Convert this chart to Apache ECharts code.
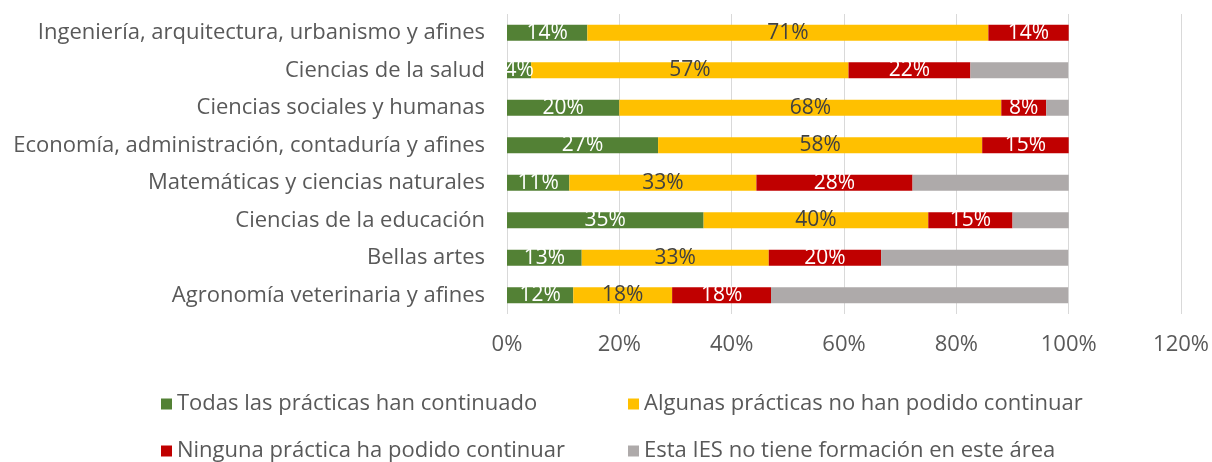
<!DOCTYPE html>
<html>
<head>
<meta charset="utf-8">
<script src="https://cdn.jsdelivr.net/npm/echarts@6/dist/echarts.min.js"></script>
<style>
  html, body { margin: 0; padding: 0; background: #fff; }
  #chart { width: 1212px; height: 462px; }
</style>
</head>
<body>
<div id="chart"></div>
<script>
// categories, top to bottom as in the picture
const categories = [
  'Ingeniería, arquitectura, urbanismo y afines',
  'Ciencias de la salud',
  'Ciencias sociales y humanas',
  'Economía, administración, contaduría y afines',
  'Matemáticas y ciencias naturales',
  'Ciencias de la educación',
  'Bellas artes',
  'Agronomía veterinaria y afines'
]

const seriesNames = [
  'Todas las prácticas han continuado',
  'Algunas prácticas no han podido continuar',
  'Ninguna práctica ha podido continuar',
  'Esta IES no tiene formación en este área'
]

// percentages (same order as categories)
const todas    = [14.3, 4.3, 20, 26.9, 11.1, 35, 13.3, 11.8]
const algunas  = [71.4, 56.5, 68, 57.7, 33.3, 40, 33.3, 17.6]
const ninguna  = [14.3, 21.7, 8, 15.4, 27.8, 15, 20, 17.6]
const sinForm  = [0, 17.4, 4, 0, 27.8, 10, 33.3, 52.9]

const xTicks = [0, 20, 40, 60, 80, 100, 120]

const colors = ['#538135', '#ffc000', '#c00000', '#aeaaaa']
const labelColors = ['#ffffff', '#404040', '#ffffff', null]
const values = [todas, algunas, ninguna, sinForm]

const FONT = 'Open Sans'

const chart = echarts.init(document.getElementById('chart'))

const series = seriesNames.map((name, i) => ({
  name: name,
  type: 'bar',
  stack: 'total',
  barWidth: 16,
  itemStyle: { color: colors[i] },
  label: {
    show: labelColors[i] !== null,
    position: 'inside',
    color: labelColors[i],
    fontSize: 21,
    fontFamily: FONT,
    formatter: p => Math.round(p.value) + '%'
  },
  data: values[i].slice().reverse()
}))

const legendPos = [
  { left: 156, top: 388 },
  { left: 623, top: 388 },
  { left: 156, top: 435 },
  { left: 623, top: 435 }
]

chart.setOption({
  backgroundColor: '#ffffff',
  animation: false,
  grid: { left: 507, right: 29, top: 14, bottom: 148, containLabel: false },
  xAxis: {
    type: 'value',
    min: xTicks[0],
    max: xTicks[xTicks.length - 1],
    interval: 20,
    axisLine: { show: false },
    axisTick: { show: false },
    splitLine: { lineStyle: { color: '#d9d9d9', width: 1 } },
    axisLabel: {
      color: '#595959',
      fontSize: 22,
      fontFamily: FONT,
      margin: 20,
      formatter: v => v + '%'
    }
  },
  yAxis: {
    type: 'category',
    data: categories.slice().reverse(),
    axisLine: { show: false },
    axisTick: { show: false },
    axisLabel: {
      color: '#595959',
      fontSize: 22,
      fontFamily: FONT,
      margin: 22
    }
  },
  legend: seriesNames.map((n, i) => ({
    data: [n],
    left: legendPos[i].left,
    top: legendPos[i].top,
    icon: 'rect',
    itemWidth: 11,
    itemHeight: 11,
    itemGap: 6,
    textStyle: { color: '#595959', fontSize: 22, fontFamily: FONT }
  })),
  series: series
})
</script>
</body>
</html>
